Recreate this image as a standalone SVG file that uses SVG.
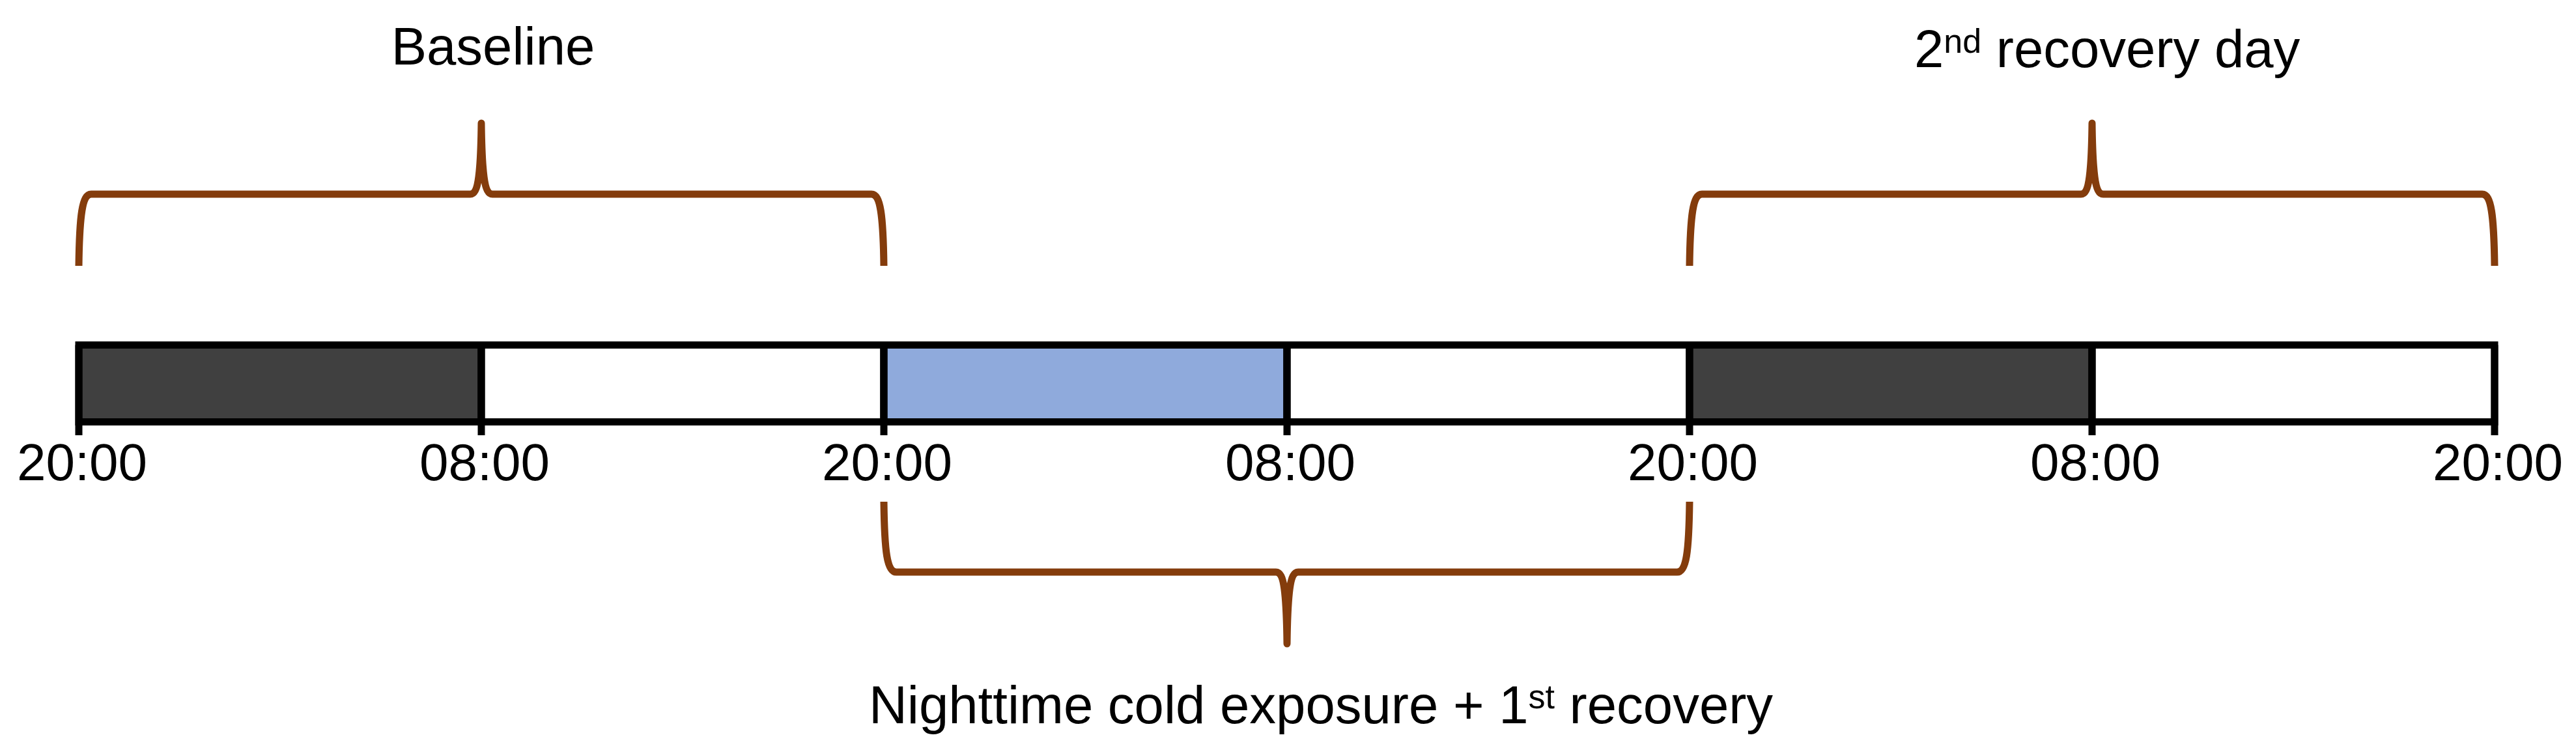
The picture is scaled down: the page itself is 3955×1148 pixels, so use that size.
<svg xmlns="http://www.w3.org/2000/svg" width="3955" height="1148" viewBox="0 0 3955 1148">
<style>
.seg{stroke:#000;stroke-width:11}
.tick{stroke:#000;stroke-width:11;fill:none}
.brace{fill:none;stroke:#843C0C;stroke-width:11;stroke-linejoin:round}
text{font-family:"Liberation Sans",Arial,sans-serif;font-size:80px;fill:#000}
.t{text-anchor:middle}
.big{font-size:81.5px}
.sup{font-size:52px}
</style>
<rect width="3955" height="1148" fill="#fff"/>
<g id="timeline">
<g id="seg1"><rect class="seg" x="121" y="529.5" width="618" height="118" fill="#404040"/></g>
<g id="seg2"><rect class="seg" x="739" y="529.5" width="618" height="118" fill="#fff"/></g>
<g id="seg3"><rect class="seg" x="1357" y="529.5" width="619" height="118" fill="#8FAADC"/></g>
<g id="seg4"><rect class="seg" x="1976" y="529.5" width="618" height="118" fill="#fff"/></g>
<g id="seg5"><rect class="seg" x="2594" y="529.5" width="618" height="118" fill="#404040"/></g>
<g id="seg6"><rect class="seg" x="3212" y="529.5" width="618" height="118" fill="#fff"/></g>
</g>
<g id="ticks">
<path class="tick" d="M121,529.5V668M739,529.5V668M1357,529.5V668M1976,529.5V668M2594,529.5V668M3212,529.5V668M3830,529.5V668"/>
</g>
<g id="tick-labels">
<text class="t" x="126" y="737">20:00</text>
<text class="t" x="744" y="737">08:00</text>
<text class="t" x="1362" y="737">20:00</text>
<text class="t" x="1981" y="737">08:00</text>
<text class="t" x="2599" y="737">20:00</text>
<text class="t" x="3217" y="737">08:00</text>
<text class="t" x="3835" y="737">20:00</text>
</g>
<g id="connectors">
<path class="brace" d="M121,408 C122,330 126,298 140,298 L722,298 C734,298 738,270 739,189 C740,270 744,298 756,298 L1338,298 C1352,298 1356,330 1357,408"/>
<path class="brace" d="M2594,408 C2595,330 2599,298 2613,298 L3195,298 C3207,298 3211,270 3212,189 C3213,270 3217,298 3229,298 L3811,298 C3825,298 3829,330 3830,408"/>
<path class="brace" d="M1357,770 C1358,848 1362,878 1376,878 L1959,878 C1971,878 1975,906 1976,988 C1977,906 1981,878 1993,878 L2575,878 C2589,878 2593,848 2594,770"/>
</g>
<g id="label-baseline"><text class="t big" x="757" y="99">Baseline</text></g>
<g id="label-recovery2"><text class="big" x="2939" y="103">2<tspan class="sup" dy="-22">nd</tspan><tspan dy="22"> recovery day</tspan></text></g>
<g id="label-cold"><text class="big" x="1334" y="1110">Nighttime cold exposure + 1<tspan class="sup" dy="-23">st</tspan><tspan dy="23"> recovery</tspan></text></g>
</svg>
